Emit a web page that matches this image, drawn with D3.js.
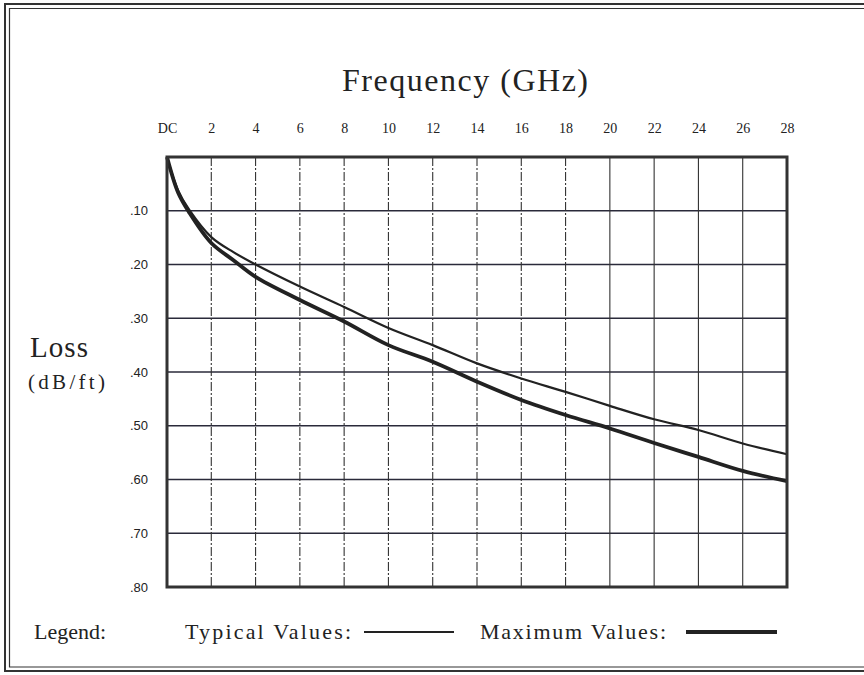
<!DOCTYPE html>
<html>
<head>
<meta charset="utf-8">
<script src="https://cdn.jsdelivr.net/npm/d3@7"></script>
<style>
  body { margin: 0; background: #fff; }
  svg { display: block; }
  text { font-family: "Liberation Serif", "DejaVu Serif", serif; fill: #222; }
</style>
</head>
<body>
<script>
// chart values
var freqs = [0, 0.5, 1, 2, 3, 4, 6, 8, 10, 12, 14, 16, 18, 20, 22, 24, 26, 28];
var typicalLoss = [0, 0.062, 0.098, 0.149, 0.177, 0.200, 0.241, 0.279, 0.318, 0.350, 0.384, 0.412, 0.437, 0.463, 0.488, 0.508, 0.533, 0.553];
var maximumLoss = [0, 0.066, 0.103, 0.160, 0.192, 0.223, 0.266, 0.306, 0.350, 0.381, 0.418, 0.452, 0.480, 0.505, 0.532, 0.558, 0.584, 0.603];
var xTicks = [0, 2, 4, 6, 8, 10, 12, 14, 16, 18, 20, 22, 24, 26, 28];
var yTicks = [0.1, 0.2, 0.3, 0.4, 0.5, 0.6, 0.7, 0.8];

var width = 864, height = 675;
var plotL = 167, plotR = 787, plotT = 157, plotB = 587;

var svg = d3.select('body').append('svg')
  .attr('width', width)
  .attr('height', height);

// page frame (double line, right side cut off in scan)
var frame = svg.append('g').attr('fill', 'none').attr('stroke', '#333');
frame.append('path').attr('d', 'M864,4 H5 V671 H864').attr('stroke-width', 2);
frame.append('path').attr('d', 'M864,8.5 H9.5 V667 H864').attr('stroke-width', 1.2);

var x = d3.scaleLinear().domain([0, 28]).range([plotL, plotR]);
var y = d3.scaleLinear().domain([0, 0.8]).range([plotT, plotB]);

// horizontal grid
svg.append('g').selectAll('line')
  .data(yTicks.slice(0, -1))
  .enter().append('line')
  .attr('x1', plotL).attr('x2', plotR)
  .attr('y1', function(d){ return y(d); })
  .attr('y2', function(d){ return y(d); })
  .attr('stroke', '#2a2a3a')
  .attr('stroke-width', 1.4);

// vertical grid
svg.append('g').selectAll('line')
  .data(xTicks.slice(1, -1))
  .enter().append('line')
  .attr('x1', function(d){ return x(d); })
  .attr('x2', function(d){ return x(d); })
  .attr('y1', plotT).attr('y2', plotB)
  .attr('stroke', '#333')
  .attr('stroke-width', 1.1)
  .attr('stroke-dasharray', function(d){ return d <= 18 ? '9,2,2,2' : null; });

// curves
var line = d3.line()
  .x(function(d){ return x(d[0]); })
  .y(function(d){ return y(d[1]); })
  .curve(d3.curveCatmullRom.alpha(0.5));

svg.append('path')
  .datum(d3.zip(freqs, typicalLoss))
  .attr('d', line)
  .attr('fill', 'none')
  .attr('stroke', '#222')
  .attr('stroke-width', 2.2);

svg.append('path')
  .datum(d3.zip(freqs, maximumLoss))
  .attr('d', line)
  .attr('fill', 'none')
  .attr('stroke', '#222')
  .attr('stroke-width', 3.8);

// plot border
svg.append('rect')
  .attr('x', plotL).attr('y', plotT)
  .attr('width', plotR - plotL).attr('height', plotB - plotT)
  .attr('fill', 'none')
  .attr('stroke', '#333')
  .attr('stroke-width', 3);

// x tick labels on top
var xAxis = d3.axisTop(x)
  .tickValues(xTicks)
  .tickSize(0)
  .tickFormat(function(d){ return d === 0 ? 'DC' : d; });
var gx = svg.append('g').attr('transform', 'translate(0,' + (plotT - 21) + ')').call(xAxis);
gx.select('.domain').remove();
gx.selectAll('text').attr('font-size', 14).attr('fill', '#222')
  .style('font-family', '"Liberation Serif", serif');

// y tick labels on the left
var yAxis = d3.axisLeft(y)
  .tickValues(yTicks)
  .tickSize(0)
  .tickFormat(function(d){ return d3.format('.2f')(d).replace(/^0/, ''); });
var gy = svg.append('g').attr('transform', 'translate(' + (plotL - 16) + ',0)').call(yAxis);
gy.select('.domain').remove();
gy.selectAll('text').attr('font-size', 13).attr('fill', '#222')
  .style('font-family', '"Liberation Sans", Arial, sans-serif');

// titles
svg.append('text')
  .attr('x', 342).attr('y', 91)
  .attr('font-size', 32)
  .attr('textLength', 246).attr('lengthAdjust', 'spacing')
  .text('Frequency (GHz)');

svg.append('text')
  .attr('x', 30).attr('y', 357)
  .attr('font-size', 29)
  .attr('textLength', 58).attr('lengthAdjust', 'spacing')
  .text('Loss');
svg.append('text')
  .attr('x', 28).attr('y', 389)
  .attr('font-size', 21)
  .attr('textLength', 77).attr('lengthAdjust', 'spacing')
  .text('(dB/ft)');

// legend
var ly = 639;
svg.append('text').attr('x', 34).attr('y', ly).attr('font-size', 22)
  .attr('textLength', 72).attr('lengthAdjust', 'spacing').text('Legend:');
svg.append('text').attr('x', 185).attr('y', ly).attr('font-size', 22)
  .attr('textLength', 166).attr('lengthAdjust', 'spacing').text('Typical Values:');
svg.append('line').attr('x1', 364).attr('x2', 454).attr('y1', ly - 7).attr('y2', ly - 7)
  .attr('stroke', '#222').attr('stroke-width', 2);
svg.append('text').attr('x', 480).attr('y', ly).attr('font-size', 22)
  .attr('textLength', 186).attr('lengthAdjust', 'spacing').text('Maximum Values:');
svg.append('line').attr('x1', 686).attr('x2', 777).attr('y1', ly - 7).attr('y2', ly - 7)
  .attr('stroke', '#222').attr('stroke-width', 3.8);
</script>
</body>
</html>
